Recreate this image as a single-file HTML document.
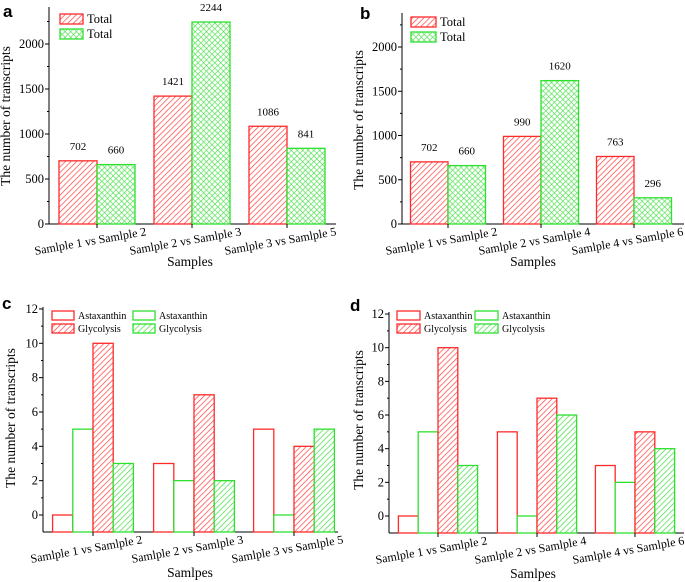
<!DOCTYPE html>
<html><head><meta charset="utf-8"><style>
html,body{margin:0;padding:0;background:#fff;}
svg{display:block;}
svg text{font-family:"Liberation Serif",serif;}
svg text.letter{font-family:"Liberation Sans",sans-serif;font-weight:bold;}
</style></head><body>
<svg id="fig" width="685" height="582" viewBox="0 0 685 582">
<defs>
<pattern id="hr" width="4" height="4" patternUnits="userSpaceOnUse" patternTransform="rotate(45)"><rect width="4" height="4" fill="#fff"/><line x1="0" y1="0" x2="0" y2="4" stroke="#ff4040" stroke-width="1.4"/></pattern>
<pattern id="hg" width="4" height="4" patternUnits="userSpaceOnUse" patternTransform="rotate(45)"><rect width="4" height="4" fill="#fff"/><line x1="0" y1="0" x2="0" y2="4" stroke="#40e040" stroke-width="1.4"/></pattern>
<pattern id="xg" width="4" height="4" patternUnits="userSpaceOnUse" patternTransform="rotate(45)"><rect width="4" height="4" fill="#fff"/><line x1="0" y1="0" x2="0" y2="4" stroke="#40e040" stroke-width="1.2"/><line x1="0" y1="0" x2="4" y2="0" stroke="#40e040" stroke-width="1.2"/></pattern>
</defs>
</svg>
<script>
// Panel a data
const catsA = ["Samlple 1 vs Samlple 2","Samlple 2 vs Samlple 3","Samlple 3 vs Samlple 5"];
const redA = [702,1421,1086];
const greenA = [660,2244,841];
const ticksA = [0,500,1000,1500,2000];
// Panel b data
const catsB = ["Samlple 1 vs Samlple 2","Samlple 2 vs Samlple 4","Samlple 4 vs Samlple 6"];
const redB = [702,990,763];
const greenB = [660,1620,296];
const ticksB = [0,500,1000,1500,2000];
// Panel c data
const catsC = ["Samlple 1 vs Samlple 2","Samlple 2 vs Samlple 3","Samlple 3 vs Samlple 5"];
const astaRedC = [0,3,5];
const astaGreenC = [5,2,0];
const glyRedC = [10,7,4];
const glyGreenC = [3,2,5];
const ticksC = [0,2,4,6,8,10,12];
// Panel d data
const catsD = ["Samlple 1 vs Samlple 2","Samlple 2 vs Samlple 4","Samlple 4 vs Samlple 6"];
const astaRedD = [0,5,3];
const astaGreenD = [5,0,2];
const glyRedD = [10,7,5];
const glyGreenD = [3,6,4];
const ticksD = [0,2,4,6,8,10,12];

const svg = document.getElementById('fig');
const NS = 'http://www.w3.org/2000/svg';
function mk(tag, attrs, parent, text){
  const e = document.createElementNS(NS, tag);
  for (const k in attrs) e.setAttribute(k, attrs[k]);
  if (text !== undefined) e.textContent = text;
  (parent||svg).appendChild(e);
  return e;
}
const RED='#ff2a2a', GREEN='#2ee02e';

function panel(o){
  const g = mk('g', {});
  
  
  const y = v => o.y0 - v * o.ppu;
  const L = mk('text', {x:o.lx, y:o.ly, class:'letter','font-size':17}, g, o.letter);
  
  
  const ya = mk('line', {x1:o.ax, y1:o.atop, x2:o.ax, y2:o.abase, stroke:'#000','stroke-width':1}, g);
  
  
  const xa = mk('line', {x1:o.ax, y1:o.abase, x2:o.aright, y2:o.abase, stroke:'#000','stroke-width':1}, g);
  
  
  const step = o.ticks[1]-o.ticks[0];
  o.ticks.forEach(t=>{
    const ty = y(t);
    mk('line',{x1:o.ax-4,y1:ty,x2:o.ax,y2:ty,stroke:'#000'},g);
    const tl = mk('text',{x:o.ax-5,y:ty+4,'text-anchor':'end','font-size':12.5},g,String(t));
    
    
    const my = y(t+step/2);
    if (my > o.atop) mk('line',{x1:o.ax-2,y1:my,x2:o.ax,y2:my,stroke:'#000'},g);
  });
  const yt = mk('text',{x:0,y:0,'text-anchor':'middle','font-size':13.5,transform:`translate(${o.ytx},${o.yty}) rotate(-90)`},g,'The number of transcripts');
  
  
  o.series.forEach((s,si)=>{
    s.vals.forEach((v,ci)=>{
      const x = o.centers[ci] + (si - o.series.length/2) * o.bw;
      const top = y(v), bot = o.barBase;
      const r = mk('rect',{x:x, y:Math.min(top,bot), width:o.bw, height:Math.abs(bot-top), fill:s.fill, stroke:s.stroke,'stroke-width':1.3},g);
      
      
      if (o.showVals){
        const vl = mk('text',{x:x+o.bw/2,y:top-11,'text-anchor':'middle','font-size':11},g,String(v));
        
        
      }
    });
  });
  o.cats.forEach((c,ci)=>{
    const cx = o.centers[ci];
    mk('line',{x1:cx,y1:o.abase,x2:cx,y2:o.abase+4,stroke:'#000'},g);
    const cl = mk('text',{x:0,y:0,'text-anchor':'middle','font-size':12,transform:`translate(${cx-6},${o.abase+21}) rotate(-10)`},g,c);
    
    
  });
  const xt = mk('text',{x:o.xtx,y:o.xty,'text-anchor':'middle','font-size':13.5},g,o.xtitle);
  
  
  o.legend.forEach(le=>{
    const lg = mk('g',{},g);
    
    
    mk('rect',{x:le.x,y:le.y,width:le.w,height:le.h,fill:le.fill,stroke:le.stroke,'stroke-width':1.3},lg);
    mk('text',{x:le.x+le.w+4,y:le.y+le.h-1,'font-size':le.fs},lg,le.text);
  });
}

panel({name:'panel-a',letter:'a',lx:3,ly:17,ax:49,atop:7,abase:224,aright:336,y0:224,ppu:0.09,barBase:224,
  ticks:ticksA,centers:[97,192,287],bw:38,cats:catsA,showVals:true,ytx:10,yty:116,xtx:190,xty:266,xtitle:'Samples',
  series:[{key:'red',vals:redA,fill:'url(#hr)',stroke:RED},{key:'green',vals:greenA,fill:'url(#xg)',stroke:GREEN}],
  legend:[{x:60,y:14,w:23,h:10,fill:'url(#hr)',stroke:RED,text:'Total',fs:12.5},{x:60,y:29,w:23,h:10,fill:'url(#xg)',stroke:GREEN,text:'Total',fs:12.5}]});

panel({name:'panel-b',letter:'b',lx:360,ly:19,ax:402,atop:13,abase:224,aright:684,y0:224,ppu:0.0885,barBase:224,
  ticks:ticksB,centers:[448,541,634],bw:37.5,cats:catsB,showVals:true,ytx:363,yty:120,xtx:533,xty:266,xtitle:'Samples',
  series:[{key:'red',vals:redB,fill:'url(#hr)',stroke:RED},{key:'green',vals:greenB,fill:'url(#xg)',stroke:GREEN}],
  legend:[{x:411,y:17,w:25,h:10,fill:'url(#hr)',stroke:RED,text:'Total',fs:12.5},{x:411,y:32,w:25,h:10,fill:'url(#xg)',stroke:GREEN,text:'Total',fs:12.5}]});

panel({name:'panel-c',letter:'c',lx:2,ly:309,ax:43,atop:307,abase:532,aright:338,y0:515,ppu:17.17,barBase:532,
  ticks:ticksC,centers:[93,194,294],bw:20.2,cats:catsC,showVals:false,ytx:15,yty:418,xtx:190,xty:577,xtitle:'Samlpes',
  series:[{key:'astaxanthin-red',vals:astaRedC,fill:'#fff',stroke:RED},{key:'astaxanthin-green',vals:astaGreenC,fill:'#fff',stroke:GREEN},
          {key:'glycolysis-red',vals:glyRedC,fill:'url(#hr)',stroke:RED},{key:'glycolysis-green',vals:glyGreenC,fill:'url(#hg)',stroke:GREEN}],
  legend:[{x:52,y:311,w:22,h:9,fill:'#fff',stroke:RED,text:'Astaxanthin',fs:10},{x:133,y:311,w:22,h:9,fill:'#fff',stroke:GREEN,text:'Astaxanthin',fs:10},
          {x:52,y:324,w:22,h:9,fill:'url(#hr)',stroke:RED,text:'Glycolysis',fs:10},{x:133,y:324,w:22,h:9,fill:'url(#hg)',stroke:GREEN,text:'Glycolysis',fs:10}]});

panel({name:'panel-d',letter:'d',lx:350,ly:311,ax:389,atop:312,abase:533,aright:684,y0:516,ppu:16.83,barBase:533,
  ticks:ticksD,centers:[438,537,635],bw:19.8,cats:catsD,showVals:false,ytx:363,yty:420,xtx:533,xty:578,xtitle:'Samlpes',
  series:[{key:'astaxanthin-red',vals:astaRedD,fill:'#fff',stroke:RED},{key:'astaxanthin-green',vals:astaGreenD,fill:'#fff',stroke:GREEN},
          {key:'glycolysis-red',vals:glyRedD,fill:'url(#hr)',stroke:RED},{key:'glycolysis-green',vals:glyGreenD,fill:'url(#hg)',stroke:GREEN}],
  legend:[{x:397,y:311,w:23,h:9,fill:'#fff',stroke:RED,text:'Astaxanthin',fs:10},{x:475,y:311,w:23,h:9,fill:'#fff',stroke:GREEN,text:'Astaxanthin',fs:10},
          {x:397,y:324,w:23,h:9,fill:'url(#hr)',stroke:RED,text:'Glycolysis',fs:10},{x:475,y:324,w:23,h:9,fill:'url(#hg)',stroke:GREEN,text:'Glycolysis',fs:10}]});
</script>
</body></html>
